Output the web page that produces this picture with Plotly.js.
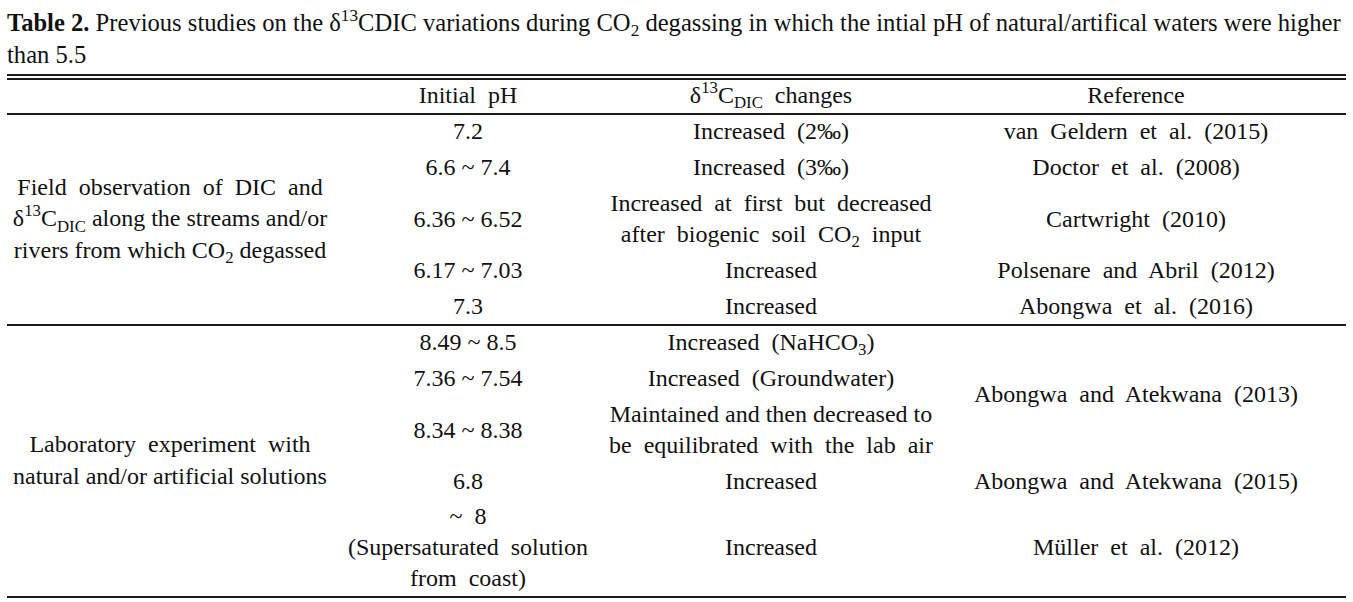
<!DOCTYPE html>
<html><head><meta charset="utf-8">
<script src="https://cdn.plot.ly/plotly-3.0.1.min.js"></script>
<style>html,body{margin:0;padding:0;background:#fff}#chart{width:1353px;height:602px}</style>
</head><body><div id="chart"></div>
<script>
// ---------- table content ----------
const titleText = "<b>Table 2.</b> Previous studies on the δ<sup>13</sup>CDIC variations during CO<sub>2</sub> degassing in which the intial pH of natural/artifical waters were higher<br>than 5.5";
const headers = ["Initial  pH", "δ<sup>13</sup>C<sub>DIC</sub>  changes", "Reference"];
const groups = [
  "Field  observation  of  DIC  and<br>δ<sup>13</sup>C<sub>DIC</sub> along the streams and/or<br>rivers from which CO<sub>2</sub> degassed",
  "Laboratory  experiment  with<br>natural and/or artificial solutions"
];
const groupRows = [[0, 4], [5, 9]];
const initialPH = ["7.2", "6.6 ~ 7.4", "6.36 ~ 6.52", "6.17 ~ 7.03", "7.3",
  "8.49 ~ 8.5", "7.36 ~ 7.54", "8.34 ~ 8.38", "6.8", "~  8<br>(Supersaturated  solution<br>from  coast)"];
const changes = ["Increased  (2‰)", "Increased  (3‰)",
  "Increased  at  first  but  decreased<br>after  biogenic  soil  CO<sub>2</sub>  input",
  "Increased", "Increased", "Increased  (NaHCO<sub>3</sub>)", "Increased  (Groundwater)",
  "Maintained and then decreased to<br>be  equilibrated  with  the  lab  air", "Increased", "Increased"];
const references = ["van  Geldern  et  al.  (2015)", "Doctor  et  al.  (2008)", "Cartwright  (2010)",
  "Polsenare  and  Abril  (2012)", "Abongwa  et  al.  (2016)", "Abongwa  and  Atekwana  (2013)",
  "Abongwa  and  Atekwana  (2015)", "Müller  et  al.  (2012)"];
const referenceRows = [[0, 0], [1, 1], [2, 2], [3, 3], [4, 4], [5, 7], [8, 8], [9, 9]];

// ---------- geometry (layout only) ----------
const W = 1353, H = 602;
const colX = {group: 170, ph: 468, change: 771, ref: 1136};
const headerY = 97;
const rowEdges = [114, 149, 186, 253, 288, 325, 361, 397, 464, 499, 597];
const topRules = [75, 79];
const ruleX = [7, 1346];
const FONT = "'Liberation Serif', 'Times New Roman', serif";
const FS = 24;

const sp = s => s.replace(/  /g, "\u00a0 ");
const spanMid = (a, b) => (rowEdges[a] + rowEdges[b + 1]) / 2 + 1;

function textTrace(xs, ys, texts) {
  return {type: "scatter", mode: "text", x: xs, y: ys, text: texts.map(sp),
    textposition: "middle center", hoverinfo: "skip", showlegend: false,
    textfont: {family: FONT, size: FS, color: "#111"}, cliponaxis: false};
}

const rowIdx = initialPH.map((_, i) => i);
const traces = [
  textTrace([colX.ph, colX.change, colX.ref], [headerY, headerY, headerY], headers),
  textTrace(groups.map(() => colX.group), groupRows.map(r => spanMid(r[0], r[1])), groups),
  textTrace(rowIdx.map(() => colX.ph), rowIdx.map(i => spanMid(i, i)), initialPH),
  textTrace(rowIdx.map(() => colX.change), rowIdx.map(i => spanMid(i, i)), changes),
  textTrace(references.map(() => colX.ref), referenceRows.map(r => spanMid(r[0], r[1])), references)
];

const ruleYs = [...topRules, rowEdges[0], rowEdges[5], rowEdges[rowEdges.length - 1]];
const shapes = ruleYs.map(y => ({type: "line", xref: "x", yref: "y", x0: ruleX[0], x1: ruleX[1],
  y0: y, y1: y, line: {color: "#1a1a1a", width: 1.8}}));

const layout = {
  width: W, height: H, margin: {l: 0, r: 0, t: 0, b: 0},
  paper_bgcolor: "#fff", plot_bgcolor: "#fff",
  xaxis: {range: [0, W], visible: false, fixedrange: true},
  yaxis: {range: [H, 0], visible: false, fixedrange: true},
  shapes: shapes,
  annotations: [{text: titleText, xref: "x", yref: "y", x: 6, y: 5, xanchor: "left", yanchor: "top",
    align: "left", showarrow: false, borderpad: 0,
    font: {family: FONT, size: 24.6, color: "#111"}}],
  font: {family: FONT}
};
Plotly.newPlot("chart", traces, layout, {displayModeBar: false, staticPlot: true});
</script></body></html>
